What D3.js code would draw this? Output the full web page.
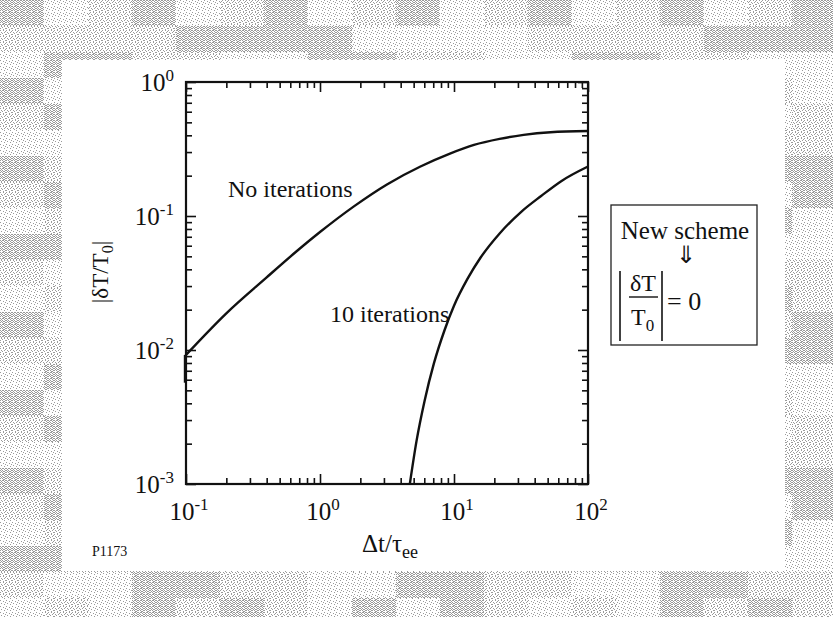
<!DOCTYPE html>
<html>
<head>
<meta charset="utf-8">
<script src="https://cdn.jsdelivr.net/npm/d3@7"></script>
<style>
  html, body { margin: 0; padding: 0; background: #fff; }
  svg { display: block; }
  text { font-family: "Liberation Serif", "Times New Roman", serif; fill: #111; }
</style>
</head>
<body>
<div id="chart"></div>
<script>
// data
var majorTicksX = [0.1, 1, 10, 100];
var majorTicksY = [0.001, 0.01, 0.1, 1];
var exponentsX = ['-1', '0', '1', '2'];
var exponentsY = ['-3', '-2', '-1', '0'];

var noIterX = [0.1, 0.2, 0.398, 0.676, 1, 1.78, 3.16, 5.62, 9.33, 14.1, 21.9, 33.1, 52.5, 100];
var noIterY = [0.0092, 0.0188, 0.0347, 0.055, 0.0759, 0.1175, 0.172, 0.234, 0.292, 0.339, 0.376, 0.403, 0.422, 0.431];
// little glitch where the curve starts on the left axis
var noIterDipX = [0.1, 0.1];
var noIterDipY = [0.0057, 0.0092];

var tenIterX = [4.68, 5.25, 6.03, 7.08, 8.51, 10, 12.6, 15.8, 21.9, 31.6, 44.7, 63.1, 100];
var tenIterY = [0.001, 0.00209, 0.00417, 0.00794, 0.0141, 0.0214, 0.0339, 0.049, 0.0741, 0.107, 0.141, 0.182, 0.234];

var width = 833, height = 617;

var svg = d3.select('#chart').append('svg')
    .attr('width', width)
    .attr('height', height);

// scanned halftone border (decoration only)
var defs = svg.append('defs');
var pats = [
    {id: 'pa', px: [[0,0],[2,0],[3,0],[5,0],[1,1],[4,1],[0,2],[2,2],[5,2],[1,3],[3,3],[4,3],[0,4],[2,4],[5,4],[3,5],[4,5]]},
    {id: 'pb', px: [[0,0],[3,0],[5,1],[1,2],[4,2],[2,3],[0,4],[5,4],[3,5]]},
    {id: 'pc', px: [[0,0],[3,1],[5,2],[1,3],[4,4]]}
];
pats.forEach(function (p) {
    var pat = defs.append('pattern')
        .attr('id', p.id)
        .attr('patternUnits', 'userSpaceOnUse')
        .attr('width', 6).attr('height', 6);
    pat.append('rect').attr('width', 6).attr('height', 6).attr('fill', '#fff');
    p.px.forEach(function (q) {
        pat.append('rect').attr('x', q[0]).attr('y', q[1])
            .attr('width', 1).attr('height', 1).attr('fill', '#9a9a9a');
    });
});
var cellW = 44, cellH = 26;
for (var i = 0; i * cellW < width; i++) {
    for (var j = 0; j * cellH < height; j++) {
        var k = (i * 5 + j * 7 + (i * j) % 4) % 3;
        svg.append('rect')
            .attr('x', i * cellW).attr('y', j * cellH)
            .attr('width', cellW).attr('height', cellH)
            .attr('fill', 'url(#' + pats[k].id + ')');
    }
}
svg.append('rect')
    .attr('x', 62).attr('y', 60)
    .attr('width', 723).attr('height', 511)
    .attr('fill', '#fff');

var x = d3.scaleLog().domain([0.1, 100]).range([186, 588]);
var y = d3.scaleLog().domain([0.001, 1]).range([484, 82]);

function minors(domain) {
    var out = [];
    for (var e = Math.log10(domain[0]); e < Math.log10(domain[1]); e++) {
        for (var m = 2; m <= 9; m++) out.push(m * Math.pow(10, e));
    }
    return out;
}
var minorX = minors(x.domain()), minorY = minors(y.domain());

function tickAxis(axisFn, scale, values, size, tx, ty) {
    svg.append('g')
        .attr('class', 'ticks')
        .attr('transform', 'translate(' + tx + ',' + ty + ')')
        .call(axisFn(scale).tickValues(values).tickSize(size).tickSizeOuter(0).tickFormat(''));
}
tickAxis(d3.axisBottom, x, minorX, -6, 0, 484);
tickAxis(d3.axisBottom, x, majorTicksX, -10, 0, 484);
tickAxis(d3.axisTop, x, minorX, -6, 0, 82);
tickAxis(d3.axisTop, x, majorTicksX, -10, 0, 82);
tickAxis(d3.axisLeft, y, minorY, -6, 186, 0);
tickAxis(d3.axisLeft, y, majorTicksY, -10, 186, 0);
tickAxis(d3.axisRight, y, minorY, -6, 588, 0);
tickAxis(d3.axisRight, y, majorTicksY, -10, 588, 0);
svg.selectAll('.ticks .domain').remove();
svg.selectAll('.ticks line').attr('stroke', '#111').attr('stroke-width', 1.6);

// frame
svg.append('rect')
    .attr('x', x.range()[0]).attr('y', y.range()[1])
    .attr('width', x.range()[1] - x.range()[0])
    .attr('height', y.range()[0] - y.range()[1])
    .attr('fill', 'none').attr('stroke', '#111').attr('stroke-width', 2.2);

// tick labels with superscript exponents
function powLabel(g, exp) {
    g.append('tspan').text('10');
    g.append('tspan').attr('dy', -10).attr('font-size', 17).text(exp);
}
majorTicksX.forEach(function (v, i) {
    var t = svg.append('text')
        .attr('x', x(v) + 3).attr('y', 520)
        .attr('text-anchor', 'middle')
        .attr('font-size', 25);
    powLabel(t, exponentsX[i]);
});
majorTicksY.forEach(function (v, i) {
    var t = svg.append('text')
        .attr('x', 174).attr('y', y(v) + 9)
        .attr('text-anchor', 'end')
        .attr('font-size', 25);
    powLabel(t, exponentsY[i]);
});

// curves
var line = d3.line()
    .x(function (d) { return x(d[0]); })
    .y(function (d) { return y(d[1]); })
    .curve(d3.curveMonotoneX);

svg.append('path')
    .datum(d3.zip(noIterX, noIterY))
    .attr('d', line)
    .attr('fill', 'none').attr('stroke', '#111').attr('stroke-width', 2.4);

svg.append('path')
    .datum(d3.zip(noIterDipX, noIterDipY))
    .attr('d', d3.line().x(function (d) { return x(d[0]) - 1; }).y(function (d) { return y(d[1]); }))
    .attr('fill', 'none').attr('stroke', '#111').attr('stroke-width', 2.4);

svg.append('path')
    .datum(d3.zip(tenIterX, tenIterY))
    .attr('d', line)
    .attr('fill', 'none').attr('stroke', '#111').attr('stroke-width', 2.4);

// curve labels
svg.append('text').attr('x', 228).attr('y', 197).attr('font-size', 24).text('No iterations');
svg.append('text').attr('x', 330).attr('y', 322).attr('font-size', 24).text('10 iterations');

// axis titles
var yt = svg.append('text')
    .attr('transform', 'translate(108,272) rotate(-90)')
    .attr('text-anchor', 'middle')
    .attr('font-size', 23);
yt.append('tspan').text('|δT/T');
yt.append('tspan').attr('font-size', 16).attr('dy', 5).text('0');
yt.append('tspan').attr('dy', -5).text('|');

var xt = svg.append('text')
    .attr('x', 390).attr('y', 552)
    .attr('text-anchor', 'middle')
    .attr('font-size', 25);
xt.append('tspan').text('Δt/τ');
xt.append('tspan').attr('font-size', 18).attr('dy', 6).text('ee');

svg.append('text')
    .attr('x', 92).attr('y', 556)
    .attr('font-family', '"Liberation Sans Narrow", "Liberation Sans", sans-serif')
    .attr('font-size', 14)
    .text('P1173');

// "New scheme" box
var box = svg.append('g');
box.append('rect')
    .attr('x', 611).attr('y', 205).attr('width', 146).attr('height', 140)
    .attr('fill', '#fff').attr('stroke', '#222').attr('stroke-width', 1.3);
box.append('text').attr('x', 685).attr('y', 239).attr('text-anchor', 'middle')
    .attr('font-size', 25).text('New scheme');
box.append('text').attr('x', 686).attr('y', 263).attr('text-anchor', 'middle')
    .attr('font-family', '"DejaVu Serif", serif')
    .attr('font-size', 24).text('⇓');
box.append('line').attr('x1', 620).attr('x2', 620).attr('y1', 271).attr('y2', 341)
    .attr('stroke', '#111').attr('stroke-width', 1.6);
box.append('line').attr('x1', 662).attr('x2', 662).attr('y1', 271).attr('y2', 341)
    .attr('stroke', '#111').attr('stroke-width', 1.6);
box.append('line').attr('x1', 629).attr('x2', 658).attr('y1', 297).attr('y2', 297)
    .attr('stroke', '#111').attr('stroke-width', 1.4);
box.append('text').attr('x', 643).attr('y', 291).attr('text-anchor', 'middle')
    .attr('font-size', 24).text('δT');
var t0 = box.append('text').attr('x', 631).attr('y', 325).attr('font-size', 24);
t0.append('tspan').text('T');
t0.append('tspan').attr('font-size', 17).attr('dy', 6).text('0');
box.append('text').attr('x', 667).attr('y', 310).attr('font-size', 26).text('= 0');
</script>
</body>
</html>
